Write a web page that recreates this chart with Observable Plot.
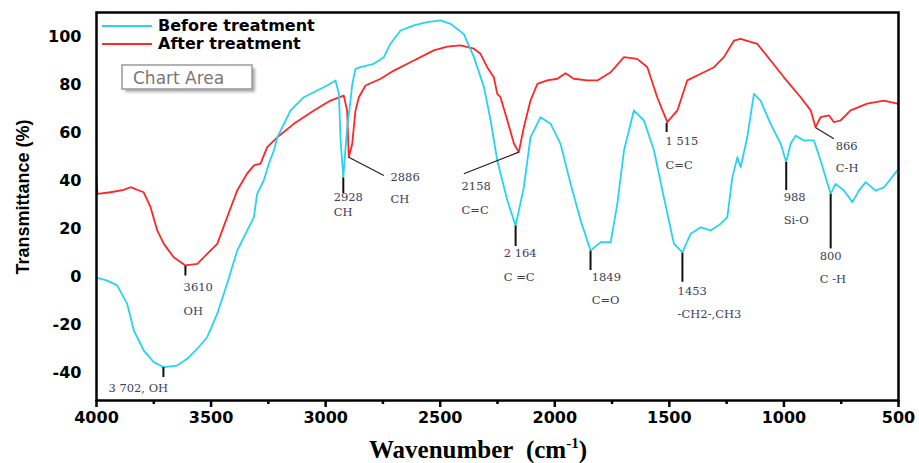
<!DOCTYPE html>
<html><head><meta charset="utf-8">
<script src="https://cdn.jsdelivr.net/npm/d3@7"></script>
<script src="https://cdn.jsdelivr.net/npm/@observablehq/plot@0.6"></script>
<style>body{margin:0;background:#fff}</style>
</head><body><div id="chart"></div>
<script>
// Before treatment (cyan)
const beforeWn = [4000,3953,3910,3866,3837,3794,3750,3706,3648,3604,3560,3517,3473,3430,3386,3342,3313,3299,3270,3248,3226,3211,3153,3095,3037,2993,2957,2942,2935,2923,2906,2893,2884,2870,2848,2790,2746,2717,2673,2615,2557,2499,2455,2397,2353,2309,2280,2251,2207,2171,2135,2106,2062,2018,1975,1931,1887,1844,1800,1756,1727,1698,1655,1611,1567,1524,1480,1443,1407,1363,1320,1276,1247,1225,1203,1189,1160,1131,1102,1058,1014,990,971,949,913,869,840,796,775,738,701,673,643,600,563,505,500];
const beforeT  = [-0.5,-1.7,-3.7,-11.4,-22.5,-30.8,-35.7,-37.8,-37.1,-34.3,-30.1,-25.3,-15.5,-3,10.8,19.2,24.7,34.4,40,47,52.5,58,69.2,74.7,77.5,79.6,81.7,76,57,41.4,62.2,72,80,86.5,87.2,88.6,91.4,97,102.5,104.6,106,106.7,105.3,101,91.4,78.9,65,48.3,31.7,21.2,37.2,58,66.4,63.6,55.3,38.6,23.3,10.8,14.3,14.3,30.3,52.5,69.2,65,52.5,33,13.6,10.1,17.8,20.5,19.2,22,24.7,41.4,49.7,45.5,58,76.1,73.3,63.6,55.3,47.6,55.3,58.7,56.7,56.7,48.3,34.4,38.6,35.8,31,35.8,39.3,35.8,37.2,44.2,44.5];
// After treatment (red)
const afterWn = [4000,3996,3939,3881,3852,3794,3764,3735,3706,3663,3612,3560,3517,3473,3430,3386,3342,3313,3284,3255,3211,3139,3051,2979,2921,2906,2899,2884,2870,2855,2826,2760,2702,2615,2528,2469,2411,2353,2324,2295,2266,2251,2237,2207,2178,2157,2135,2106,2076,2033,1989,1953,1917,1858,1814,1756,1698,1640,1596,1553,1509,1465,1422,1363,1305,1262,1218,1189,1116,1058,1000,927,883,862,840,803,782,753,709,636,564,505,500];
const afterT  = [41.4,34.4,35.1,36.1,37.2,35.1,28.9,19.2,13.6,8,4.6,5.3,9.4,13.6,24.7,35.8,43,46.3,47,53.9,58,63.6,69.2,73.3,75.4,69,49.7,55.3,69,74.7,79.6,82.4,85.8,90,94.2,95.8,96.3,94.9,92.8,87.2,83,76.1,74.7,65,55.3,51.8,62.2,73.3,80.3,81.7,82.4,84.7,82.4,81.7,81.7,85.1,91.4,90.7,87.2,74.7,64.3,69.2,81.7,84.5,87.2,91.4,98.3,99,96.9,90,83,74.7,69.2,62.2,66.4,67.1,64.3,65,69.2,72,73.3,72,71.5];

// Axis ticks
const xTicks = [4000,3500,3000,2500,2000,1500,1000,500];
const xMinorTicks = [3750,3250,2750,2250,1750,1250,750];
const yTicks = [-40,-20,0,20,40,60,80,100];

// Peak annotations
const labelText = ["3610","OH","3 702, OH","2928","CH","2886","CH","2158","C=C","2 164","C =C","1849","C=O","1453","-CH2-,CH3","1 515","C=C","988","Si-O","800","C -H","866","C-H"];
const labelWn   = [3620,3620,3948,2965,2965,2717,2717,2407,2407,2223,2223,1839,1839,1464,1464,1517,1517,1001,1001,844,844,774,774];
const labelT    = [-4.6,-14.6,-46.7,32.9,26.7,41.3,32.1,37.5,27.5,9.6,-0.4,-0.4,-10,-6.3,-15.8,56.3,46.3,32.9,23.3,8.3,-1.3,54.2,45];
const tickWn  = [3708,3612,2923,2171,1844,1443,1512,990,796];
const tickTop = [-37.9,4.2,41.0,21,10.5,9.7,63.8,47.5,34.2];
const tickBot = [-42.1,0.2,34.5,12.5,2.5,-2.4,60,35.8,11.5];
const leadWn1 = [2899,2157,861], leadT1 = [49.7,51.8,62];
const leadWn2 = [2746,2397,782], leadT2 = [42.1,42.8,57.4];

const before = beforeWn.map((w,i)=>({w, t: beforeT[i]}));
const after  = afterWn.map((w,i)=>({w, t: afterT[i]}));
const labels = labelText.map((s,i)=>({s, w: labelWn[i], t: labelT[i]}));
const ticks  = tickWn.map((w,i)=>({w, y1: tickTop[i], y2: tickBot[i]}));
const leads  = leadWn1.map((w,i)=>({x1: w, y1: leadT1[i], x2: leadWn2[i], y2: leadT2[i]}));

const BLUE = "#27d3f2", RED = "#ff2626";
const sans = "DejaVu Sans";

const plot = Plot.plot({
  width: 919, height: 463,
  marginTop: 12, marginRight: 21, marginBottom: 63, marginLeft: 96,
  style: {background: "#fff", color: "#000", overflow: "visible"},
  x: {domain: [4000, 500]},
  y: {domain: [-51.67, 110]},
  marks: [
    Plot.axisX({ticks: xMinorTicks, tickSize: 4, text: null, strokeWidth: 2.5, label: null}),
    Plot.axisX({ticks: xTicks, tickSize: 7, tickPadding: 4, tickFormat: d => String(d), strokeWidth: 2.5,
      fontFamily: sans, fontSize: 16, fontWeight: "bold", label: null}),
    Plot.axisY({ticks: yTicks, tickSize: 0, tickPadding: 15, tickFormat: d => String(d),
      fontFamily: sans, fontSize: 16, fontWeight: "bold", label: null}),
    Plot.line(after, {x: "w", y: "t", stroke: RED, strokeWidth: 1.8}),
    Plot.line(before, {x: "w", y: "t", stroke: BLUE, strokeWidth: 1.8}),
    Plot.ruleX(ticks, {x: "w", y1: "y1", y2: "y2", stroke: "#111", strokeWidth: 2}),
    Plot.link(leads, {x1: "x1", y1: "y1", x2: "x2", y2: "y2", stroke: "#222", strokeWidth: 1.2}),
    Plot.text(labels, {x: "w", y: "t", text: "s", textAnchor: "start", lineAnchor: "middle",
      fontFamily: "DejaVu Serif", fontSize: 11.5, fill: "#3c3c55"}),
    Plot.frame({stroke: "#000", strokeWidth: 2.5})
  ]
});

const svg = d3.select(plot);
// Legend
const lg = svg.append("g").attr("text-anchor","start");
lg.append("line").attr("x1",102).attr("x2",152).attr("y1",26).attr("y2",26).attr("stroke",BLUE).attr("stroke-width",2);
lg.append("line").attr("x1",102).attr("x2",152).attr("y1",44).attr("y2",44).attr("stroke",RED).attr("stroke-width",2);
lg.append("text").attr("x",158).attr("y",31).attr("text-anchor","start").text("Before treatment")
  .attr("font-family",sans).attr("font-weight","bold").attr("font-size",16).attr("fill","#000");
lg.append("text").attr("x",158).attr("y",49).attr("text-anchor","start").text("After treatment")
  .attr("font-family",sans).attr("font-weight","bold").attr("font-size",16).attr("fill","#000");
// "Chart Area" box
const defs = svg.append("defs");
defs.append("filter").attr("id","blur").append("feGaussianBlur").attr("stdDeviation",1.5);
svg.append("rect").attr("x",125).attr("y",68).attr("width",130).attr("height",24).attr("fill","#aaa").attr("filter","url(#blur)");
svg.append("rect").attr("x",122).attr("y",65).attr("width",130).attr("height",24).attr("fill","#fff").attr("stroke","#999").attr("stroke-width",1.5);
svg.append("text").attr("x",133).attr("y",84).attr("text-anchor","start").text("Chart Area")
  .attr("font-family",sans).attr("font-size",17).attr("fill","#777");
// Axis titles
svg.append("text").attr("transform","translate(29,197) rotate(-90)").attr("text-anchor","middle")
  .attr("font-family","Liberation Sans").attr("font-weight","bold").attr("font-size",18).attr("fill","#000")
  .text("Transmittance (%)");
const xt = svg.append("text").attr("x",478).attr("y",458).attr("text-anchor","middle")
  .attr("font-family","Liberation Serif").attr("font-weight","bold").attr("font-size",25).attr("fill","#000");
xt.append("tspan").text("Wavenumber\u00a0\u00a0(cm");
xt.append("tspan").attr("dy",-10).attr("font-size",15).text("-1");
xt.append("tspan").attr("dy",10).text(")");

document.getElementById("chart").appendChild(plot);
</script>
</body></html>
